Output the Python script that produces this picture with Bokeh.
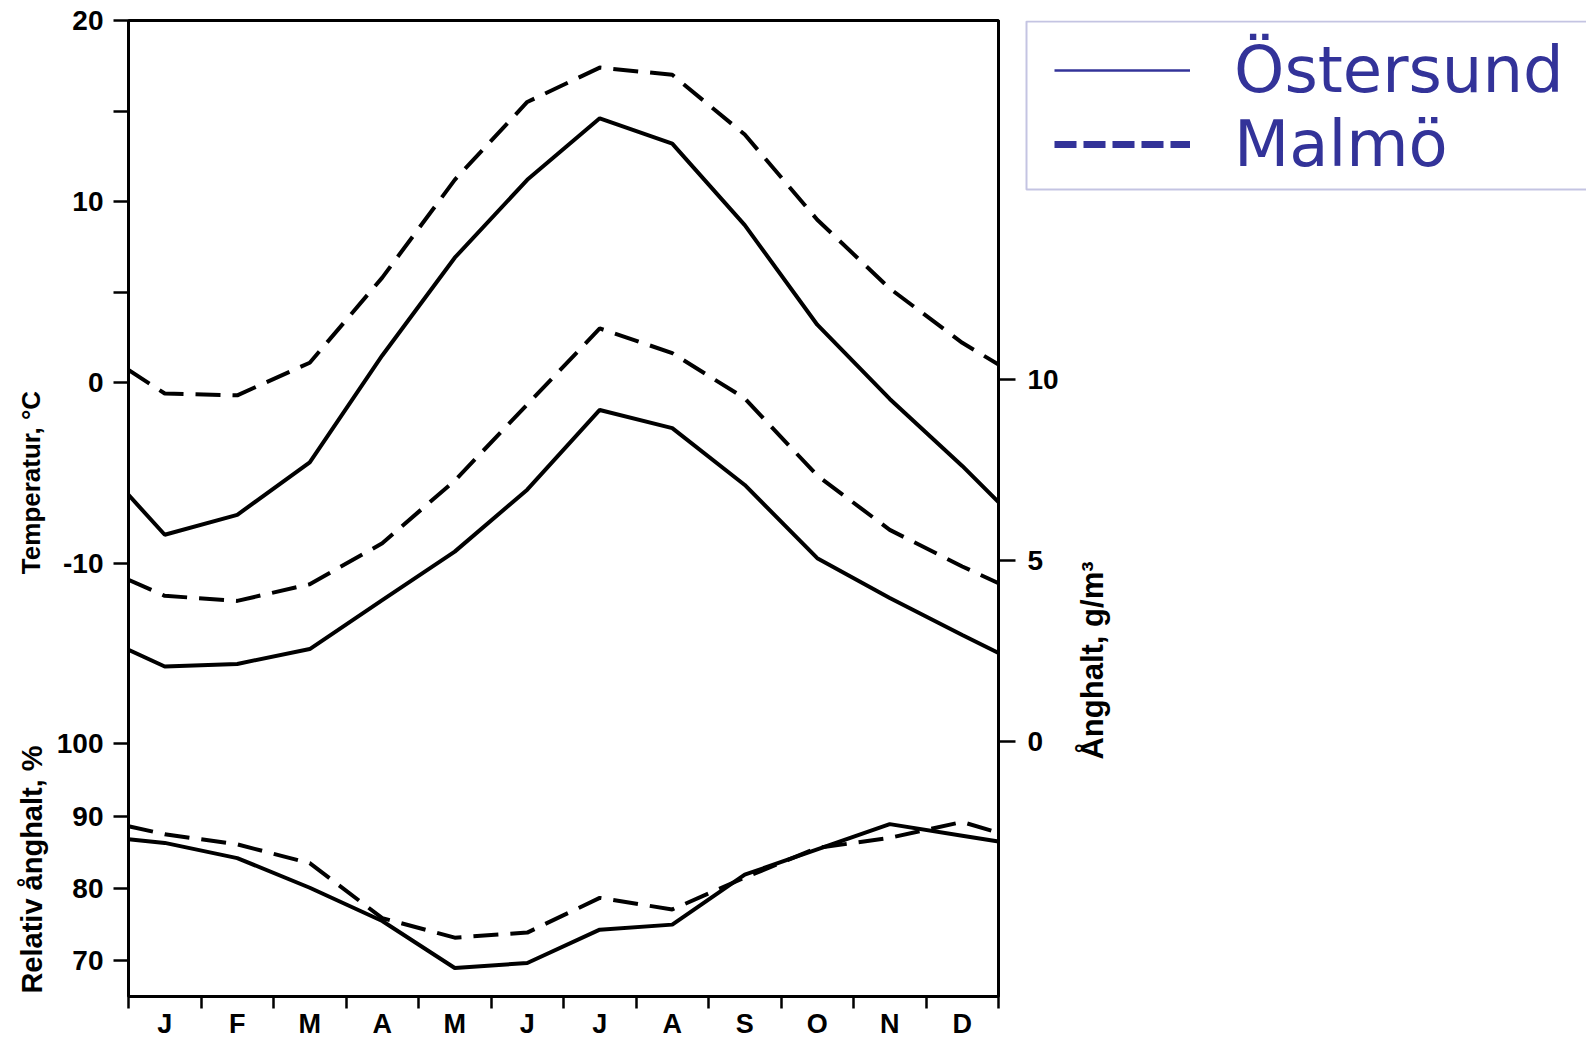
import math
from bokeh.plotting import figure
from bokeh.layouts import row
from bokeh.models import (Range1d, LinearAxis, FixedTicker, Legend, LegendItem, Label,
                          BoxAnnotation)
from bokeh.embed import file_html
from bokeh.resources import INLINE

# ---------------- data ----------------
months = ["J", "F", "M", "A", "M", "J", "J", "A", "S", "O", "N", "D"]
# year start, mid-month positions, year end (in months)
month_pos = [0.0, 0.5, 1.5, 2.5, 3.5, 4.5, 5.5, 6.5, 7.5, 8.5, 9.5, 10.5, 11.5, 12.0]

temp_ostersund = [-6.2, -8.4, -7.3, -4.4, 1.5, 6.9, 11.2, 14.6, 13.2, 8.7, 3.2, -0.9, -4.6, -6.6]
temp_malmo = [0.7, -0.6, -0.7, 1.1, 5.8, 11.2, 15.5, 17.4, 17.0, 13.7, 9.0, 5.2, 2.2, 1.0]

vapor_ostersund = [2.53, 2.07, 2.14, 2.55, 3.9, 5.24, 6.95, 9.15, 8.65, 7.08, 5.06, 3.96, 2.94, 2.44]
vapor_malmo = [4.46, 4.02, 3.88, 4.34, 5.47, 7.2, 9.3, 11.4, 10.72, 9.47, 7.34, 5.84, 4.83, 4.37]

rh_ostersund = [86.8, 86.3, 84.2, 80.1, 75.5, 69.0, 69.7, 74.3, 75.0, 81.9, 85.4, 88.9, 87.3, 86.5]
rh_malmo = [88.6, 87.5, 86.1, 83.5, 75.9, 73.2, 73.9, 78.7, 77.1, 81.5, 85.6, 87.0, 89.2, 87.7]

temp_ticks = [-10, 0, 10, 20]
temp_minor_ticks = [5, 15]
vapor_ticks = [0, 5, 10]
rh_ticks = [70, 80, 90, 100]

series_names = ["Östersund", "Malmö"]

T_RANGE = (-33.9, 20.0)
VAPOR_RANGE = (-7.04, 19.9)
RH_RANGE = (65.06, 200.03)
X_RANGE = (0, 12)

# ---------------- layout constants ----------------
FONT = "Liberation Sans"
BLUE = "#333399"
W, H = 1586, 1041
FRAME_L, FRAME_T, FRAME_W, FRAME_H = 128, 20, 870, 976
FRAME_B = FRAME_T + FRAME_H

p = figure(width=W, height=H, output_backend="svg", toolbar_location=None,
           x_range=Range1d(*X_RANGE), y_range=Range1d(*T_RANGE),
           x_axis_location=None, y_axis_location=None,
           min_border_left=FRAME_L, min_border_right=W - FRAME_L - FRAME_W,
           min_border_top=FRAME_T, min_border_bottom=H - FRAME_B)
p.extra_y_ranges = {"vapor": Range1d(*VAPOR_RANGE), "rh": Range1d(*RH_RANGE)}
p.xgrid.grid_line_color = None
p.ygrid.grid_line_color = None
p.outline_line_color = "black"
p.outline_line_width = 3
p.background_fill_color = "white"
p.border_fill_color = "white"


def rh_to_temp(r):
    t0, t1 = T_RANGE
    r0, r1 = RH_RANGE
    return round(t0 + (r - r0) / (r1 - r0) * (t1 - t0), 3)


def style_axis(ax, size="28px"):
    ax.axis_line_width = 3
    ax.axis_line_color = "black"
    ax.major_tick_line_width = 2.5
    ax.minor_tick_line_width = 2.5
    ax.major_tick_line_color = "black"
    ax.minor_tick_line_color = "black"
    ax.major_label_text_font = FONT
    ax.major_label_text_font_style = "bold"
    ax.major_label_text_font_size = size
    ax.major_label_text_color = "black"


# bottom month axis
xa = LinearAxis(ticker=FixedTicker(ticks=[i + 0.5 for i in range(12)],
                                   minor_ticks=list(range(13))),
                major_label_overrides={i + 0.5: m for i, m in enumerate(months)})
style_axis(xa, "27px")
xa.major_tick_out = 0
xa.major_tick_in = 0
xa.minor_tick_out = 12
xa.minor_tick_in = 0
xa.major_label_standoff = 0
p.add_layout(xa, "below")

# left axis: temperature (top) and relative humidity (bottom) share one spine
rh_pos = [rh_to_temp(r) for r in rh_ticks]
left_over = {t: str(t) for t in temp_ticks}
left_over.update({pos: str(r) for pos, r in zip(rh_pos, rh_ticks)})
ya = LinearAxis(ticker=FixedTicker(ticks=temp_ticks + rh_pos, minor_ticks=temp_minor_ticks),
                major_label_overrides=left_over)
style_axis(ya)
ya.major_tick_out = 15
ya.major_tick_in = 0
ya.minor_tick_out = 15
ya.minor_tick_in = 0
ya.major_label_standoff = 10
p.add_layout(ya, "left")

# right axis: water vapour content
ra = LinearAxis(y_range_name="vapor", ticker=FixedTicker(ticks=vapor_ticks, minor_ticks=[]),
                major_label_overrides={v: str(v) for v in vapor_ticks})
style_axis(ra)
ra.major_tick_out = 17
ra.major_tick_in = 0
ra.major_label_standoff = 12
p.add_layout(ra, "right")

# ---------------- series ----------------
LW = 4
DASH = "25 12"
p.line(month_pos, temp_ostersund, line_color="black", line_width=LW)
p.line(month_pos, temp_malmo, line_color="black", line_width=LW, line_dash=DASH)
p.line(month_pos, vapor_ostersund, line_color="black", line_width=LW, y_range_name="vapor")
p.line(month_pos, vapor_malmo, line_color="black", line_width=LW, line_dash=DASH,
       y_range_name="vapor")
p.line(month_pos, rh_ostersund, line_color="black", line_width=LW, y_range_name="rh")
p.line(month_pos, rh_malmo, line_color="black", line_width=LW, line_dash=DASH,
       y_range_name="rh")

# ---------------- transparent overlay for titles and legend (page-pixel space) -------------
# full width, same vertical frame as the chart; y data == page pixel row
ov = figure(width=W, height=H, output_backend="svg", toolbar_location=None,
            x_range=Range1d(0, W), y_range=Range1d(FRAME_B, FRAME_T),
            x_axis_location=None, y_axis_location=None,
            min_border_left=0, min_border_right=0,
            min_border_top=FRAME_T, min_border_bottom=H - FRAME_B)
ov.xgrid.grid_line_color = None
ov.ygrid.grid_line_color = None
ov.outline_line_color = None
ov.background_fill_alpha = 0
ov.border_fill_alpha = 0
ov.styles = {"margin-left": f"-{W}px"}

for txt, px, py, size in [("Temperatur, °C", 30, 482, "26px"),
                          ("Relativ ånghalt, %", 31, 869, "29px"),
                          ("Ånghalt, g/m³", 1092, 660, "31px")]:
    ov.add_layout(Label(x=px, y=py, text=txt,
                        angle=math.pi / 2, text_align="center", text_baseline="middle",
                        text_font=FONT, text_font_style="bold", text_font_size=size,
                        text_color="black"))

ov.add_layout(BoxAnnotation(left=1026, right=W + 100, top=FRAME_T + 1, bottom=189,
                            fill_color="white", fill_alpha=1.0,
                            line_color="#3a3a9e", line_width=2))

nan = float("nan")
leg_solid = ov.line([nan], [nan], line_color=BLUE, line_width=2.5)
leg_dash = ov.line([nan], [nan], line_color=BLUE, line_width=7, line_dash="22 7")
legend = Legend(items=[LegendItem(label=series_names[0], renderers=[leg_solid]),
                       LegendItem(label=series_names[1], renderers=[leg_dash])],
                location=(1054, FRAME_B - 181), padding=0, spacing=0, margin=0,
                border_line_alpha=0, background_fill_alpha=0,
                glyph_width=136, glyph_height=74, label_standoff=44,
                label_text_font="DejaVu Sans", label_text_font_size="64px",
                label_text_color=BLUE)
ov.add_layout(legend)

layout = row(p, ov)
open("out.html", "w").write(file_html(layout, INLINE))
